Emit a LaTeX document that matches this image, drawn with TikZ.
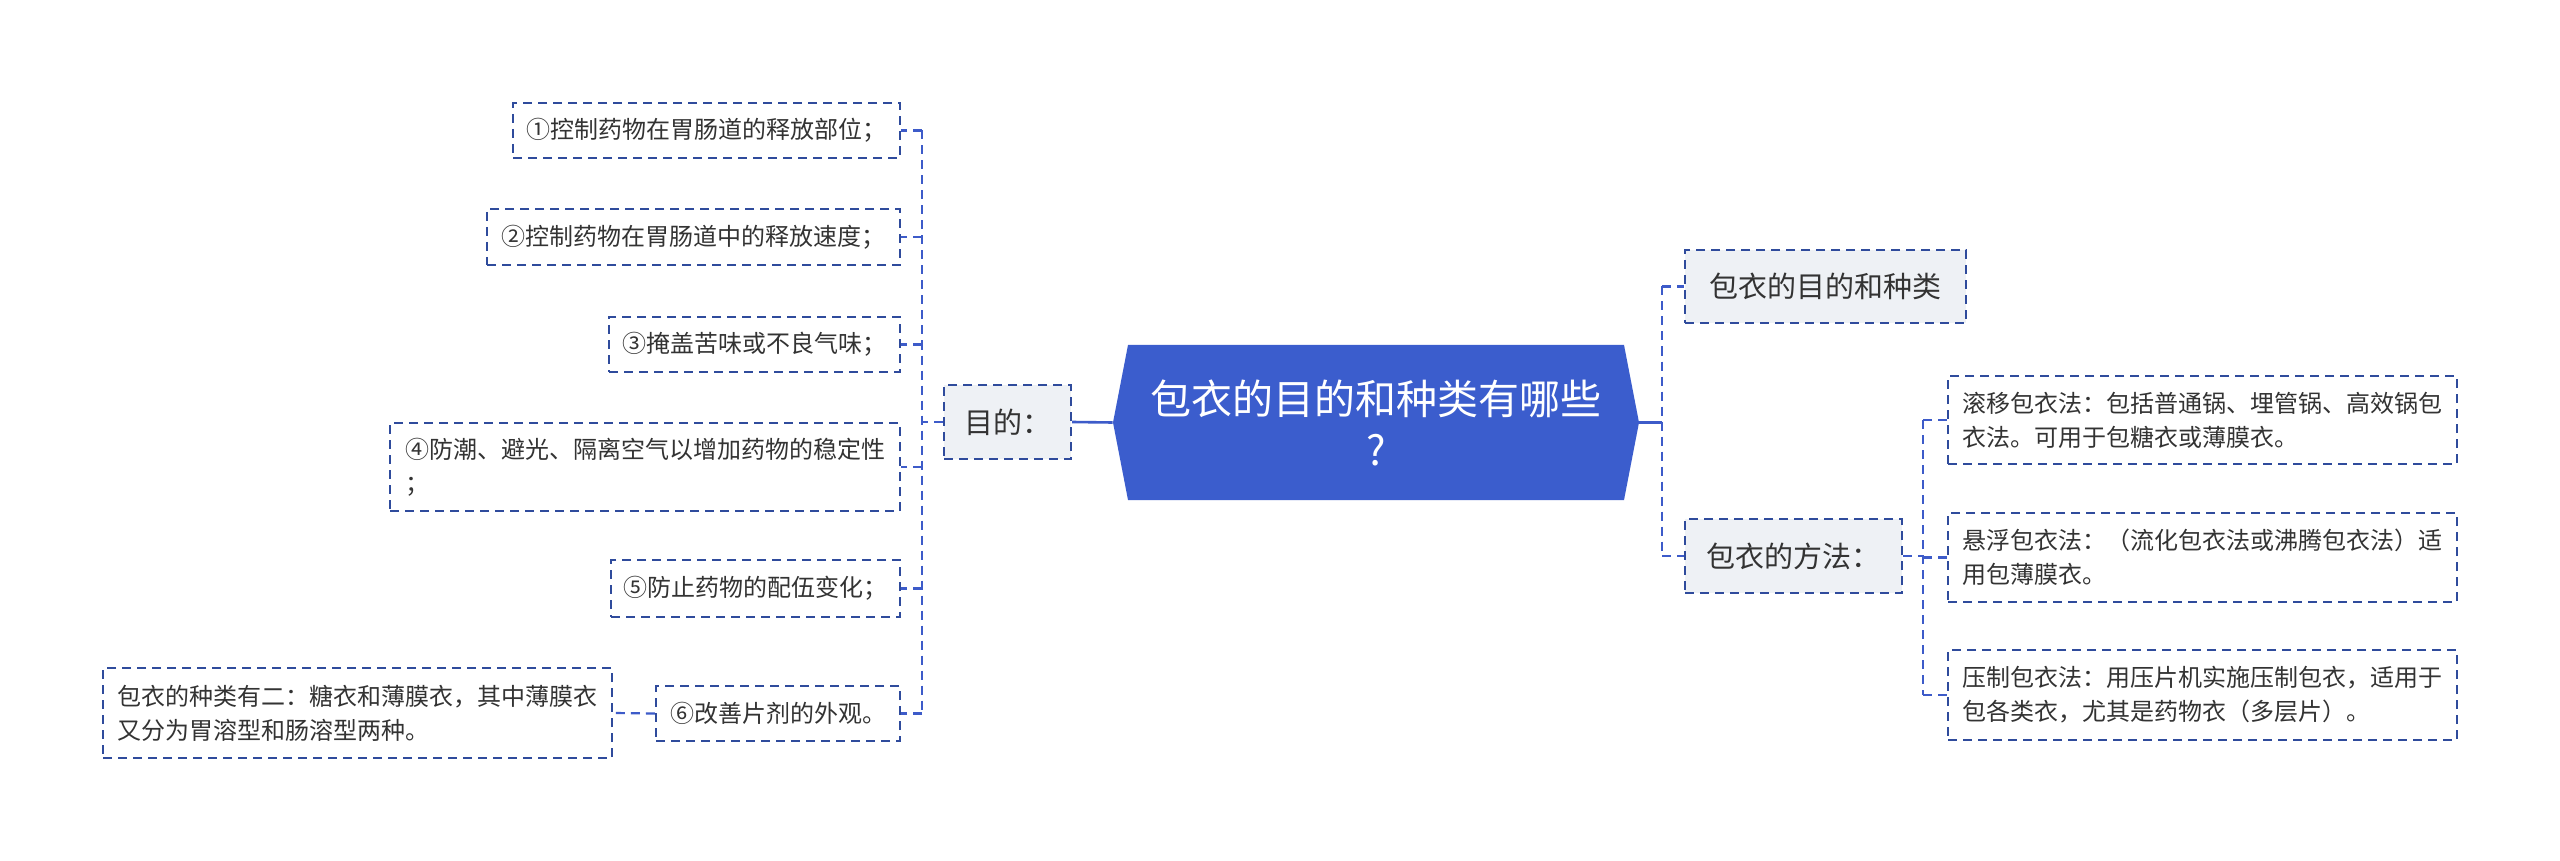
\documentclass[tikz,border=0pt]{standalone}
\usepackage{fontspec}
\setmainfont{Noto Sans CJK SC}
\definecolor{rootblue}{HTML}{3B5DCD}
\definecolor{linkblue}{HTML}{3D5BC9}
\definecolor{edgeblue}{HTML}{2F4B9C}
\definecolor{lvlfill}{HTML}{EEF1F5}
\definecolor{txt}{HTML}{333333}
\tikzset{
  box/.style={draw=edgeblue, line width=1.1pt, dash pattern=on 4.5pt off 3pt, inner sep=0pt, text=txt},
  leaf/.style={box, font=\fontsize{12}{17}\selectfont},
  lvl/.style={box, fill=lvlfill, font=\fontsize{14.5}{18}\selectfont},
  conn/.style={draw=linkblue, line width=1.1pt, dash pattern=on 4.5pt off 3pt},
  solidconn/.style={draw=linkblue, line width=1.3pt},
  rootnode/.style={font=\fontsize{20.5}{25.5}\selectfont, text=white, align=center, inner sep=0pt},
}
\begin{document}
\begin{tikzpicture}[x=0.5pt, y=-0.5pt]
\fill[white] (0,0) rectangle (2560,861);
\useasboundingbox (0,0) rectangle (2560,861);
% root
\fill[rootblue] (1113,422.5) -- (1128,345) -- (1624,345) -- (1639,422.5) -- (1624,500) -- (1128,500) -- cycle;
\node[rootnode, minimum width=263pt, minimum height=77.5pt] (root) at (1376,422.5) {包衣的目的和种类有哪些\\?};
% left branch
\node[lvl, minimum width=63.5pt, minimum height=37pt] (mud) at (1007.5,422) {目的：};
\node[leaf, minimum width=193.5pt, minimum height=27.5pt] (c1) at (706.5,130.5) {①控制药物在胃肠道的释放部位；};
\node[leaf, minimum width=206.5pt, minimum height=28pt] (c2) at (693.5,237) {②控制药物在胃肠道中的释放速度；};
\node[leaf, minimum width=145.5pt, minimum height=27.5pt] (c3) at (754.5,344.5) {③掩盖苦味或不良气味；};
\node[leaf, minimum width=255pt, minimum height=44pt, align=left] (c4) at (645,467) {④防潮、避光、隔离空气以增加药物的稳定性\\；};
\node[leaf, minimum width=144.5pt, minimum height=28.5pt] (c5) at (755.5,588.5) {⑤防止药物的配伍变化；};
\node[leaf, minimum width=122pt, minimum height=27.5pt] (c6) at (778,713.5) {⑥改善片剂的外观。};
\node[leaf, minimum width=254.5pt, minimum height=45pt, align=left] (c6a) at (357.5,713) {包衣的种类有二：糖衣和薄膜衣，其中薄膜衣\\又分为胃溶型和肠溶型两种。};
% right branch
\node[lvl, minimum width=140.5pt, minimum height=36.5pt] (r1) at (1825.5,286.5) {包衣的目的和种类};
\node[lvl, minimum width=108.5pt, minimum height=37pt] (r2) at (1793.5,556) {包衣的方法：};
\node[leaf, minimum width=254.5pt, minimum height=44pt, align=left] (ma) at (2202.5,420) {滚移包衣法：包括普通锅、埋管锅、高效锅包\\衣法。可用于包糖衣或薄膜衣。};
\node[leaf, minimum width=254.5pt, minimum height=44.5pt, align=left] (mb) at (2202.5,557.5) {悬浮包衣法：（流化包衣法或沸腾包衣法）适\\用包薄膜衣。};
\node[leaf, minimum width=254.5pt, minimum height=45pt, align=left] (mc) at (2202.5,695) {压制包衣法：用压片机实施压制包衣，适用于\\包各类衣，尤其是药物衣（多层片）。};
% connectors left
\coordinate (lbus) at (922,422);
\draw[solidconn] (root.west) -- (mud.east);
\draw[conn] (mud.west) -- (lbus);
\draw[conn] (lbus |- c1.east) -- (lbus |- c6.east);
\foreach \n in {c1,c2,c3,c4,c5,c6} \draw[conn] (lbus |- \n.east) -- (\n.east);
\draw[conn] (c6.west) -- (c6a.east);
% connectors right
\coordinate (rbus) at (1662,422.5);
\draw[solidconn] (root.east) -- (rbus);
\draw[conn] (rbus |- r1.west) -- (rbus |- r2.west);
\draw[conn] (rbus |- r1.west) -- (r1.west);
\draw[conn] (rbus |- r2.west) -- (r2.west);
\coordinate (mbus) at (1923,556);
\draw[conn] (r2.east) -- (mbus);
\draw[conn] (mbus |- ma.west) -- (mbus |- mc.west);
\foreach \n in {ma,mb,mc} \draw[conn] (mbus |- \n.west) -- (\n.west);
\end{tikzpicture}
\end{document}
